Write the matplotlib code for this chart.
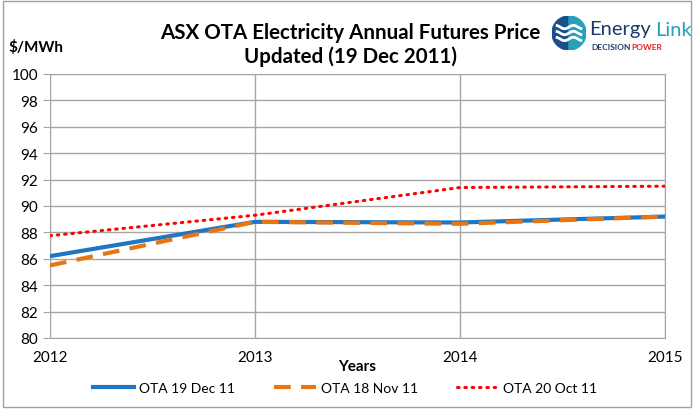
import matplotlib
matplotlib.use("Agg")
import matplotlib.pyplot as plt
from matplotlib.patches import Wedge, Rectangle
import numpy as np

years = [2012, 2013, 2014, 2015]
ota_dec = [86.2, 88.8, 88.75, 89.2]
ota_nov = [85.5, 88.8, 88.65, 89.2]
ota_oct = [87.75, 89.3, 91.4, 91.5]
yticks = list(range(80, 101, 2))

plt.rcParams['font.family'] = ['Lato', 'DejaVu Sans']

W, H = 694, 410
fig = plt.figure(figsize=(W/100, H/100), dpi=100)
ax = fig.add_axes([50/W, 1-339/H, (665-50)/W, (339-75)/H])

ax.plot(years, ota_dec, color='#1f77c4', lw=3, label='OTA 19 Dec 11', zorder=3)
ax.plot(years, ota_nov, color='#e87511', lw=3, dashes=(4, 2.5), label='OTA 18 Nov 11', zorder=4)
ax.plot(years, ota_oct, color='#ff0000', lw=2.2, dashes=(0.5, 1.9), dash_capstyle='round',
        label='OTA 20 Oct 11', zorder=3)

ax.set_xlim(2012, 2015)
ax.set_ylim(80, 100)
ax.set_xticks(years)
ax.set_yticks(yticks)
ax.grid(True, color='#a6a6a6', lw=1)
ax.set_axisbelow(True)
for s in ax.spines.values():
    s.set_color('#a6a6a6')
ax.tick_params(axis='both', color='#a6a6a6', labelsize=11, length=5, direction='out')
ax.tick_params(axis='x', length=0, pad=9)
ax.set_xlabel('Years', fontsize=11, fontweight='bold', labelpad=-4)

fig.text(350/W, 1-45/H, 'ASX OTA Electricity Annual Futures Price\nUpdated (19 Dec 2011)',
         ha='center', va='center', fontsize=14.8, fontweight='bold', linespacing=1.25)
fig.text(8/W, 1-47/H, '$/MWh', ha='left', va='center', fontsize=11, fontweight='bold')

leg = fig.legend(loc='center', bbox_to_anchor=(345/W, 1-389/H), ncol=3, frameon=False,
                 fontsize=10, handlelength=3.0, columnspacing=2.8, handletextpad=0.35)

# outer border
fig.patches.append(Rectangle((0.004, 0.004), 0.992, 0.992, transform=fig.transFigure,
                             fill=False, ec='#a0a0a0', lw=1))

# logo
lax = fig.add_axes([552/W, 1-51/H, 34/W, 34/H])
lax.set_xlim(-1, 1); lax.set_ylim(-1, 1); lax.set_aspect('equal'); lax.axis('off')
lax.add_patch(Wedge((0, 0), 1, 90, 270, color='#1b4f8a'))
lax.add_patch(Wedge((0, 0), 1, -90, 90, color='#2aa0b8'))
t = np.linspace(-0.7, 0.7, 50)
for yo in [0.35, 0.0, -0.35]:
    lax.plot(t, yo + 0.1*np.sin(t*6), color='white', lw=2)
fig.text(589/W, 1-30/H, 'Energy', ha='left', va='center', fontsize=14.5, color='#1b3a6b')
fig.text(655/W, 1-30/H, 'Link', ha='left', va='center', fontsize=14.5, color='#2aa0b8')
fig.text(591/W, 1-48/H, 'DECISION', ha='left', va='center', fontsize=6, color='#1b3a6b', fontweight='bold')
fig.text(631/W, 1-48/H, 'POWER', ha='left', va='center', fontsize=6, color='#e0202a', fontweight='bold')

fig.savefig('out.png', dpi=100)
